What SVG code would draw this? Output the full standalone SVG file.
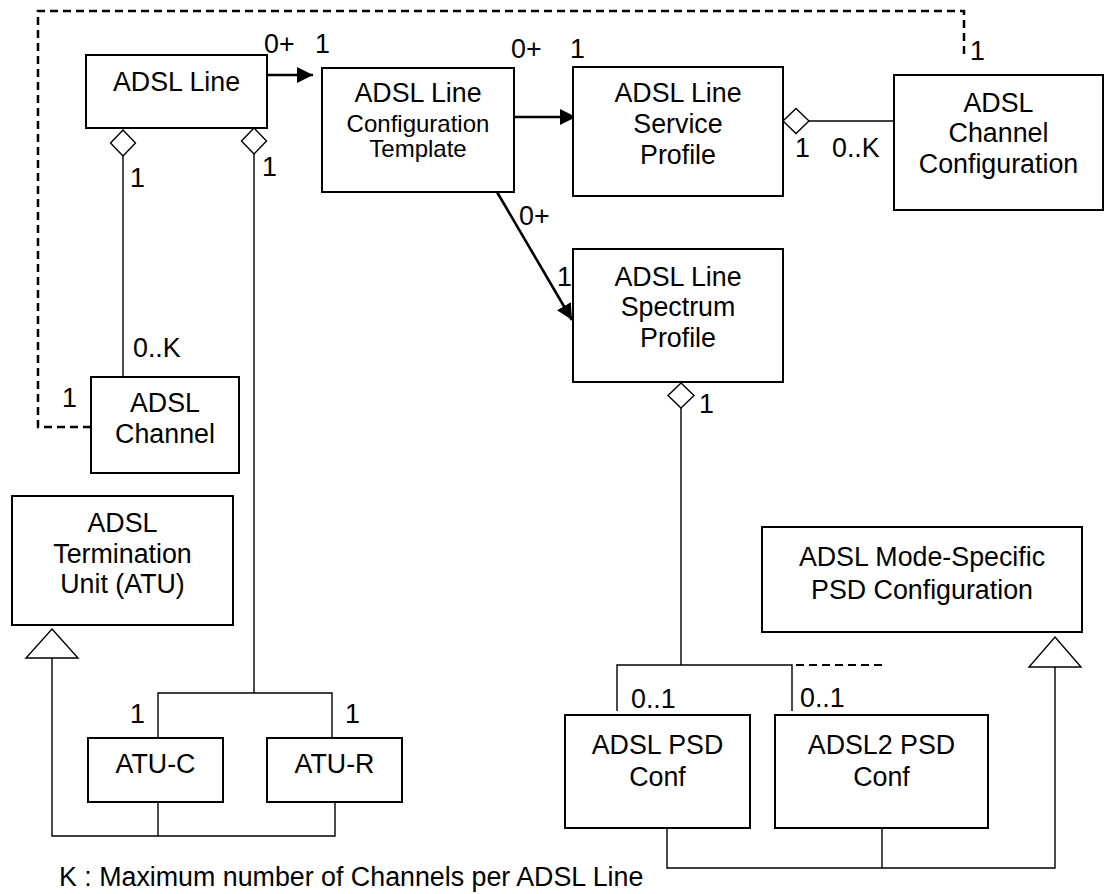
<svg xmlns="http://www.w3.org/2000/svg" width="1105" height="894" viewBox="0 0 1105 894">
<defs>
<marker id="arr" markerUnits="userSpaceOnUse" markerWidth="18" markerHeight="18" refX="16" refY="8" orient="auto" viewBox="0 0 18 16">
<path d="M0,0 L16,8 L0,16 Z" fill="#000"/>
</marker>
</defs>
<style>
.box{fill:#fff;stroke:#000;stroke-width:2}
.t{font-family:"Liberation Sans",Arial,sans-serif;font-size:26.8px;fill:#000}
.c{text-anchor:middle}
.s{font-size:24px}
.thin{fill:none;stroke:#000;stroke-width:1.4}
.nav{fill:none;stroke:#000;stroke-width:2.6}
.dash{fill:none;stroke:#000;stroke-width:2.5;stroke-dasharray:8 5}
.dia{fill:#fff;stroke:#000;stroke-width:1.4}
</style>
<rect width="1105" height="894" fill="#fff"/>
<g id="connectors">
<path class="dash" d="M91,427 H38 V11 H964 V58"/>
<line class="nav" x1="268" y1="75" x2="313" y2="75" marker-end="url(#arr)"/>
<line class="nav" x1="514" y1="117" x2="576" y2="117" marker-end="url(#arr)"/>
<line class="nav" x1="497" y1="192" x2="572" y2="320" marker-end="url(#arr)"/>
<line class="thin" x1="123" y1="156" x2="123" y2="381"/>
<path class="dia" d="M123,130 L135.5,143 L123,156 L110.5,143 Z"/>
<path class="thin" d="M254,154 V693 M158,738 V693 H332 V738"/>
<path class="dia" d="M254,128 L266.5,141 L254,154 L241.5,141 Z"/>
<line class="thin" x1="809" y1="121" x2="894" y2="121"/>
<path class="dia" d="M783,121 L796,108.5 L809,121 L796,133.5 Z"/>
<path class="thin" d="M681,408 V665 M617,711 V665 H792 V711"/>
<line class="dash" x1="796" y1="665" x2="884" y2="665" style="stroke-width:2.2"/>
<path class="dia" d="M681,383 L694,395.5 L681,408 L668,395.5 Z"/>
<path class="thin" d="M52,658 V836 H335 V802 M158,802 V836"/>
<path class="dia" d="M52,629 L78,658 L26,658 Z"/>
<path class="thin" d="M1055,667 V868 H667 V828 M882,828 V868"/>
<path class="dia" d="M1055,637 L1081,667 L1029,667 Z"/>
</g>
<g id="adsl-line"><rect class="box" x="86" y="55" width="181" height="73"/><text class="t c" x="176.5" y="91">ADSL Line</text></g>
<g id="line-config-template"><rect class="box" x="322" y="68" width="192" height="124"/><text class="t c" x="418" y="102">ADSL Line</text><text class="t c s" x="418" y="132">Configuration</text><text class="t c s" x="418" y="157">Template</text></g>
<g id="line-service-profile"><rect class="box" x="573" y="67" width="210" height="129"/><text class="t c" x="678" y="102">ADSL Line</text><text class="t c" x="678" y="133">Service</text><text class="t c" x="678" y="164">Profile</text></g>
<g id="channel-configuration"><rect class="box" x="894" y="75" width="209" height="135"/><text class="t c" x="998.5" y="112">ADSL</text><text class="t c" x="998.5" y="142">Channel</text><text class="t c" x="998.5" y="173">Configuration</text></g>
<g id="line-spectrum-profile"><rect class="box" x="573" y="249" width="210" height="133"/><text class="t c" x="678" y="286">ADSL Line</text><text class="t c" x="678" y="316">Spectrum</text><text class="t c" x="678" y="347">Profile</text></g>
<g id="adsl-channel"><rect class="box" x="91" y="377" width="148" height="96"/><text class="t c" x="165" y="412">ADSL</text><text class="t c" x="165" y="443">Channel</text></g>
<g id="atu"><rect class="box" x="12" y="496" width="221" height="129"/><text class="t c" x="122.5" y="532">ADSL</text><text class="t c" x="122.5" y="563">Termination</text><text class="t c" x="122.5" y="593">Unit (ATU)</text></g>
<g id="atu-c"><rect class="box" x="88" y="738" width="135" height="64"/><text class="t c" x="155.5" y="773">ATU-C</text></g>
<g id="atu-r"><rect class="box" x="267" y="738" width="135" height="64"/><text class="t c" x="334.5" y="773">ATU-R</text></g>
<g id="mode-specific-psd"><rect class="box" x="762" y="527" width="320" height="105"/><text class="t c" x="922" y="566">ADSL Mode-Specific</text><text class="t c" x="922" y="599">PSD Configuration</text></g>
<g id="adsl-psd-conf"><rect class="box" x="565" y="715" width="185" height="113"/><text class="t c" x="657.5" y="754">ADSL PSD</text><text class="t c" x="657.5" y="786">Conf</text></g>
<g id="adsl2-psd-conf"><rect class="box" x="775" y="715" width="213" height="113"/><text class="t c" x="881.5" y="754">ADSL2 PSD</text><text class="t c" x="881.5" y="786">Conf</text></g>
<g id="labels">
<text class="t" x="264" y="53">0+</text>
<text class="t" x="315" y="53">1</text>
<text class="t" x="511" y="58">0+</text>
<text class="t" x="570" y="58">1</text>
<text class="t" x="795" y="157">1</text>
<text class="t" x="832" y="157">0..K</text>
<text class="t" x="970" y="60">1</text>
<text class="t" x="130" y="187">1</text>
<text class="t" x="262" y="176">1</text>
<text class="t" x="133" y="357">0..K</text>
<text class="t" x="62" y="407">1</text>
<text class="t" x="519" y="225">0+</text>
<text class="t" x="557" y="286">1</text>
<text class="t" x="699" y="413">1</text>
<text class="t" x="130" y="723">1</text>
<text class="t" x="345" y="723">1</text>
<text class="t" x="631" y="708">0..1</text>
<text class="t" x="800" y="707">0..1</text>
<text class="t" x="59" y="886">K : Maximum number of Channels per ADSL Line</text>
</g>
</svg>
